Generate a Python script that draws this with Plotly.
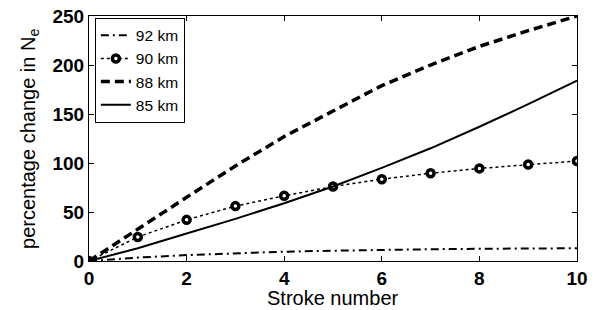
import plotly.graph_objects as go

strokes = [0, 1, 2, 3, 4, 5, 6, 7, 8, 9, 10]
ne_92km = [0, 3.5, 6, 8, 9.5, 10.5, 11.5, 12, 12.5, 12.8, 13]
ne_90km = [0, 24.5, 42, 56, 66.5, 76, 83.5, 89.5, 94.5, 98.5, 102]
ne_88km = [0, 33, 65, 97, 127, 153, 179, 200, 219, 235, 250]
ne_85km = [0, 13, 28, 43, 59, 76, 95, 115, 137, 160, 184]

x_ticks = [0, 2, 4, 6, 8, 10]
y_ticks = [0, 50, 100, 150, 200, 250]

FONT = "Liberation Sans, Arial, Helvetica, sans-serif"

fig = go.Figure()
fig.add_trace(go.Scatter(x=strokes, y=ne_92km, mode="lines", name="92 km",
                         line=dict(color="black", width=2, dash="8px,4px,2px,4px")))
fig.add_trace(go.Scatter(x=strokes, y=ne_90km, mode="lines+markers", name="90 km",
                         line=dict(color="black", width=1.5, dash="dot"),
                         marker=dict(symbol="circle", size=7, color="white",
                                     line=dict(color="black", width=3.5))))
fig.add_trace(go.Scatter(x=strokes, y=ne_88km, mode="lines", name="88 km",
                         line=dict(color="black", width=3.5, dash="9px,5px")))
fig.add_trace(go.Scatter(x=strokes, y=ne_85km, mode="lines", name="85 km",
                         line=dict(color="black", width=2)))

axis_common = dict(
    showline=True, linecolor="black", linewidth=1.2, mirror="ticks",
    ticks="inside", ticklen=5, tickwidth=1, tickcolor="black",
    showgrid=False, zeroline=False, automargin=False,
    tickfont=dict(family=FONT, size=19, color="black", weight="bold"),
)

fig.update_layout(
    width=600, height=310,
    margin=dict(l=89, r=23, t=16, b=49),
    paper_bgcolor="white", plot_bgcolor="white",
    font=dict(family=FONT, color="black"),
    showlegend=True,
    legend=dict(x=0.012, y=0.993, xanchor="left", yanchor="top",
                bgcolor="white", bordercolor="black", borderwidth=1,
                font=dict(family=FONT, size=15.5, color="black"),
                tracegroupgap=0, itemwidth=30),
    xaxis=dict(range=[0, 10], tickvals=x_ticks, ticktext=[str(v) for v in x_ticks],
               **axis_common),
    yaxis=dict(range=[0, 250], tickvals=y_ticks, ticktext=[str(v) for v in y_ticks],
               **axis_common),
    annotations=[
        dict(text="Stroke number", xref="paper", yref="paper", x=0.5, y=-0.153,
             xanchor="center", yanchor="middle", showarrow=False,
             font=dict(family=FONT, size=20, color="black")),
        dict(text="percentage change in N<sub>e</sub>", xref="paper", yref="paper",
             x=-0.122, y=0.5, xanchor="center", yanchor="middle", textangle=-90,
             showarrow=False, font=dict(family=FONT, size=20, color="black")),
    ],
)

fig.write_html("out.html", config={"displayModeBar": False},
               post_script="document.body.style.margin='0';document.body.style.overflow='hidden';")
